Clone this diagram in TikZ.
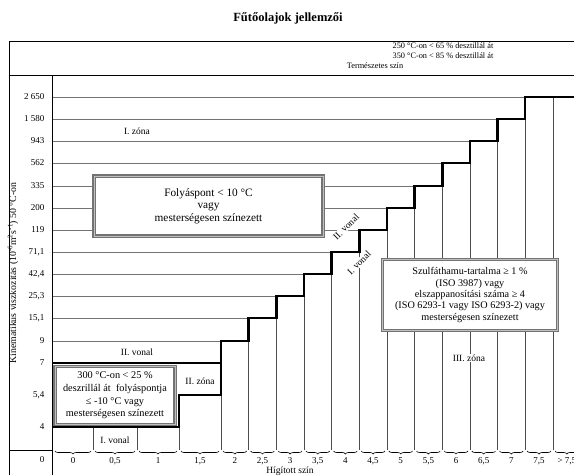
\documentclass[tikz,border=0pt]{standalone}
\usepackage{fontspec}
\setmainfont{Liberation Serif}
\usetikzlibrary{decorations.pathreplacing}

\begin{document}
\begin{tikzpicture}[x=1pt, y=-1pt,
  frame/.style={draw=black, line width=0.9pt},
  gridline/.style={draw=black!55, line width=0.5pt},
  colline/.style={draw=black!70, line width=0.5pt},
  stair/.style={draw=black, line width=2.6pt, line join=miter},
  notebox/.style={draw=black!55, line width=1.4pt, double=black!25, double distance=0.6pt, fill=white},
  ylbl/.style={anchor=east, font=\fontsize{9}{10}\selectfont},
  xlbl/.style={font=\fontsize{9}{10}\selectfont},
  lbl/.style={font=\fontsize{9.5}{11}\selectfont},
  brc/.style={decorate, decoration={brace, amplitude=3pt, mirror}, draw=black, line width=0.6pt}
]
\useasboundingbox (0,0) rectangle (574,475);

\node[font=\fontsize{12.5}{14}\selectfont\bfseries] (title) at (288,18) {Fűtőolajok jellemzői};

\draw[frame] (9,475) -- (9,41) -- (580,41);
\draw[frame] (9,75) -- (580,75);
\draw[frame] (52,75) -- (52,475);
\draw[frame] (9,450) -- (52,450);
\node[font=\fontsize{8.3}{9}\selectfont] (hdrA) at (443,46) {250 °C-on < 65 \% desztillál át};
\node[font=\fontsize{8.3}{9}\selectfont] (hdrB) at (443,55.5) {350 °C-on < 85 \% desztillál át};
\node[font=\fontsize{8.3}{9}\selectfont] (hdrC) at (375,66) {Természetes szín};

\node[rotate=90, font=\fontsize{9.8}{12}\selectfont] (yaxis) at (13,273)
  {Kinematikus viszkozitás (10\textsuperscript{-6}m\textsuperscript{2}s\textsuperscript{-1}) 50 °C-on};

\foreach \yy/\txt [count=\j from 0] in {97/2 650, 119/1 580, 141/943, 163/562, 186/335, 208/200,
    230/119, 252/{71,1}, 274/{42,4}, 296/{25,3}, 318/{15,1}, 341/9, 363/7, 395/{5,4}, 427/4, 460/0}
  \node[ylbl] (y\j) at (48,\yy) {\txt};

\foreach \yy [count=\j from 0] in {97,119,141,163,186,208,230,252,274,296,318,341}
  \draw[gridline] (53,\yy) -- ({221+(11-\j)*27.65},\yy);

\foreach \xx in {93,137,179}
  \draw[colline] (\xx,450) -- (\xx,427);
\foreach \yy [count=\k from 4] in {395,341,318,296,274,252,230,208,186,163,141,119,97}
  \draw[colline] ({221+(\k-4)*27.65},450) -- ({221+(\k-4)*27.65},\yy);

\draw[stair] (53,363) -- (221,363) -- (221,341) -- (248.65,341) -- (248.65,318) -- (276.3,318)
  -- (276.3,296) -- (303.95,296) -- (303.95,274) -- (331.6,274) -- (331.6,252) -- (359.25,252)
  -- (359.25,230) -- (386.9,230) -- (386.9,208) -- (414.55,208) -- (414.55,186) -- (442.2,186)
  -- (442.2,163) -- (469.85,163) -- (469.85,141) -- (497.5,141) -- (497.5,119) -- (525.15,119)
  -- (525.15,97) -- (580,97);
\draw[stair] (53,427) -- (179,427) -- (179,395) -- (221,395) -- (221,363);

\foreach \xa/\xb/\txt [count=\i] in {53/93/0, 93/137/{0,5}, 137/179/1, 179/221/{1,5}, 221/248.65/2,
    248.65/276.3/{2,5}, 276.3/303.95/3, 303.95/331.6/{3,5}, 331.6/359.25/4, 359.25/386.9/{4,5},
    386.9/414.55/5, 414.55/442.2/{5,5}, 442.2/469.85/6, 469.85/497.5/{6,5}, 497.5/525.15/7,
    525.15/553/{7,5}, 553/580.65/{> 7,5}} {
  \draw[brc] (\xa+2,451) -- (\xb-2,451);
  \node[xlbl] (x\i) at ({(\xa+\xb)/2},461) {\txt};
}
\node[lbl] (hig) at (290,471) {Hígított szín};

\node[notebox, minimum width=229pt, minimum height=60pt, align=center,
  font=\fontsize{11.3}{12.5}\selectfont] (folyas) at (208.5,206)
  {Folyáspont < 10 °C\\vagy\\mesterségesen színezett};
\node[notebox, minimum width=120pt, minimum height=58pt, align=center, inner sep=0.5pt,
  font=\fontsize{10.3}{12.6}\selectfont] (dest) at (115,395.5)
  {300 °C-on < 25 \%\\deszrillál át\ \ folyáspontja\\≤ -10 °C vagy\\mesterségesen színezett};
\node[notebox, minimum width=175pt, minimum height=71pt, align=center, inner sep=0.5pt,
  font=\fontsize{10.2}{11.4}\selectfont] (szulf) at (470,295)
  {Szulfáthamu-tartalma ≥ 1 \%\\(ISO 3987) vagy\\elszappanosítási száma ≥ 4\\(ISO 6293-1 vagy ISO 6293-2) vagy\\mesterségesen színezett};

\node[lbl] (zonaI) at (137,131) {I. zóna};
\node[lbl] (vonalII) at (137,352) {II. vonal};
\node[lbl] (zonaII) at (200,381) {II. zóna};
\node[lbl, fill=white, inner sep=1pt] (vonalI) at (115,440) {I. vonal};
\node[lbl, fill=white, inner sep=1pt] (zonaIII) at (469,358) {III. zóna};
\node[lbl, fill=white, inner sep=0.5pt, rotate=45] (vonalIIr) at (346,227) {II. vonal};
\node[lbl, fill=white, inner sep=0.5pt, rotate=45] (vonalIr) at (359,263) {I. vonal};
\end{tikzpicture}
\end{document}
